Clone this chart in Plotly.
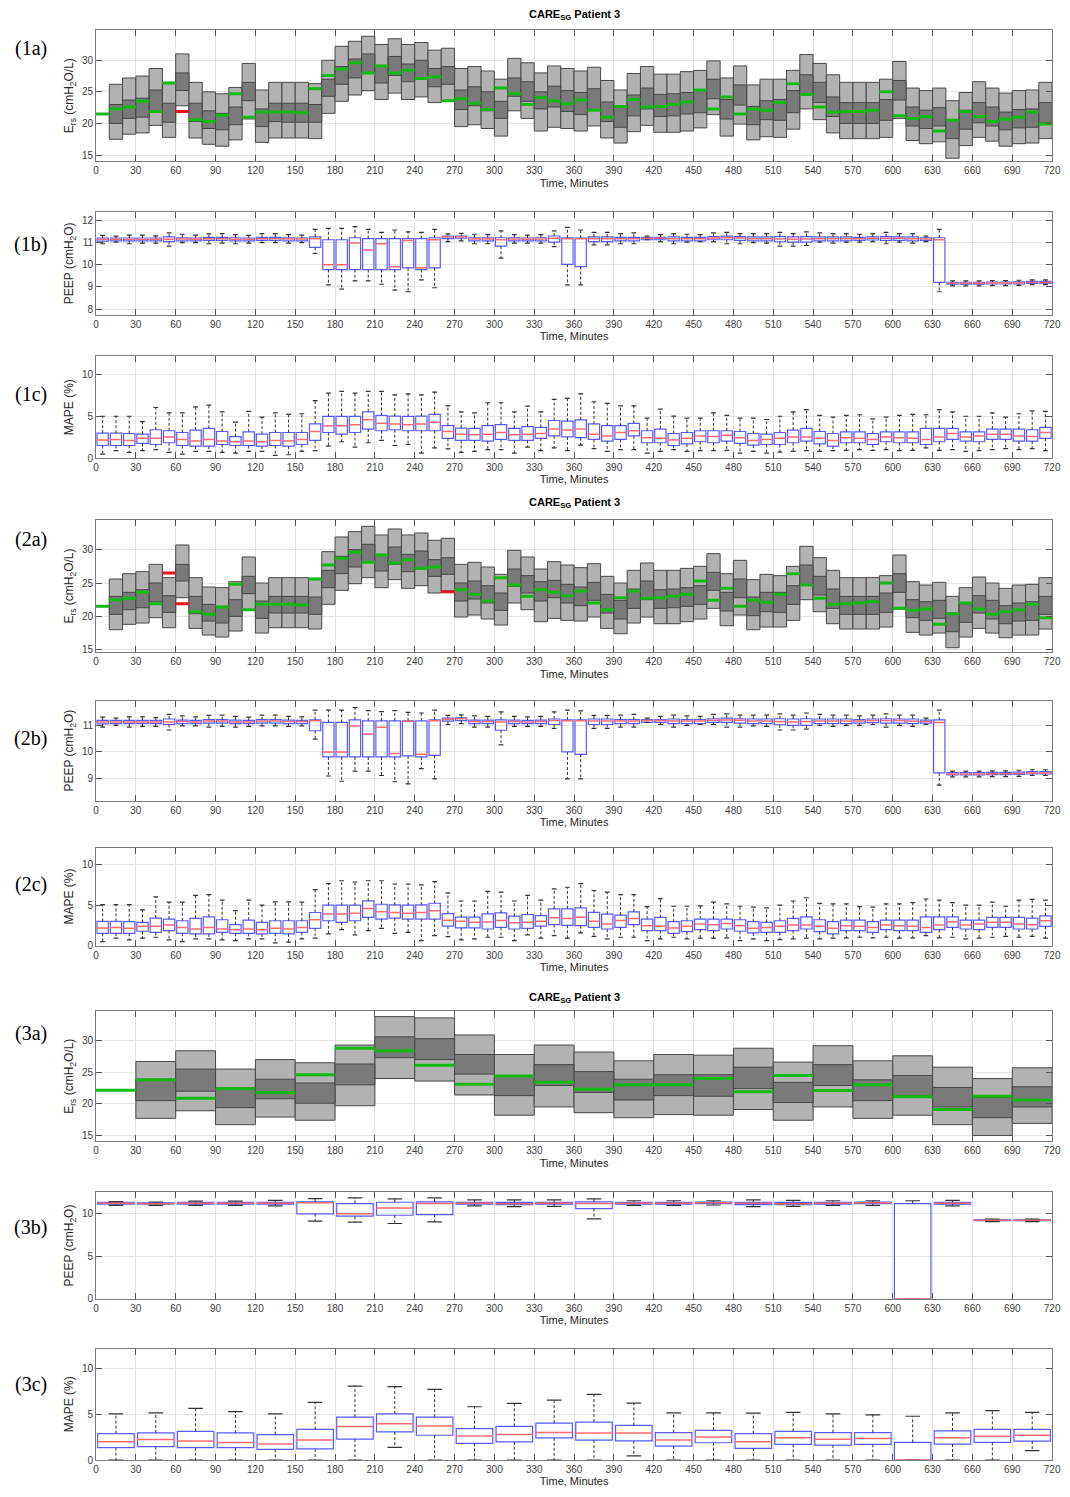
import plotly.graph_objects as go

# page size, and offset of the figure inside the page (browser body margin)
PW, PH = 1070, 1497
OFF = 8
W, H = PW - OFF, PH - OFF
XL, XR = 94, 1061  # plot area left/right in page pixels

# ---------------- data ----------------
t_ticks = list(range(0, 721, 30))

# (1a) Ers, 10-min bins: outer range, inner range, clinical value
es1_hi = [None, 26.2, 27.2, 27.5, 28.7, 26.5, 31.0, 26.5, 25.0, 24.7, 25.7, 29.5, 25.3, 26.5, 26.5, 26.5, 26.3, 30.0,
          32.2, 33.0, 33.8, 32.5, 33.4, 32.5, 32.8, 31.6, 31.9, 28.7, 29.0, 28.3, 27.0, 30.3, 29.6, 28.0, 29.1, 28.7,
          28.3, 28.9, 26.8, 25.3, 27.9, 29.0, 27.8, 27.8, 28.2, 28.4, 29.9, 27.2, 29.1, 26.1, 27.0, 27.0, 28.4, 30.9,
          29.5, 27.7, 26.5, 26.5, 26.5, 27.0, 29.8, 25.6, 25.2, 25.6, 23.6, 24.9, 26.6, 25.6, 24.8, 25.2, 25.3, 26.5]
es1_q3 = [None, 23.0, 23.7, 24.0, 25.3, 23.2, 28.0, 23.2, 22.0, 21.6, 22.6, 26.5, 22.3, 23.2, 23.2, 23.2, 23.0, 27.0,
          29.0, 30.2, 31.0, 29.2, 30.6, 29.4, 30.0, 28.7, 29.0, 25.3, 25.8, 25.0, 23.5, 27.2, 26.6, 25.0, 25.9, 25.2,
          24.9, 25.5, 23.4, 22.7, 24.5, 25.6, 24.6, 24.7, 24.9, 25.3, 27.0, 23.8, 26.1, 22.7, 23.6, 23.8, 25.2, 27.7,
          26.5, 24.2, 23.3, 23.3, 23.3, 23.8, 26.8, 22.6, 22.1, 22.5, 20.6, 22.1, 23.3, 22.6, 21.8, 22.2, 22.3, 23.3]
es1_q1 = [None, 20.0, 20.8, 21.0, 22.0, 20.2, 25.2, 20.3, 19.2, 19.0, 19.8, 23.6, 19.5, 20.3, 20.2, 20.2, 20.2, 24.3,
          26.2, 27.2, 28.0, 26.4, 27.6, 26.6, 27.0, 25.8, 26.2, 22.2, 22.8, 22.0, 20.8, 24.3, 23.5, 22.3, 22.6, 21.9,
          21.4, 22.2, 20.3, 19.4, 21.2, 22.3, 21.1, 21.2, 21.5, 21.7, 23.9, 20.7, 22.9, 19.8, 20.6, 20.5, 21.7, 24.6,
          23.3, 21.1, 20.0, 20.0, 20.0, 20.5, 23.7, 19.6, 19.2, 19.6, 17.6, 19.1, 20.1, 19.6, 19.0, 19.3, 19.4, 20.1]
es1_lo = [None, 17.5, 18.3, 18.5, 19.7, 17.8, 22.8, 17.7, 16.7, 16.4, 17.4, 20.7, 17.0, 17.7, 17.7, 17.7, 17.6, 21.6,
          23.5, 24.5, 25.2, 23.8, 24.8, 23.8, 24.2, 23.3, 23.5, 19.5, 19.8, 19.2, 18.0, 22.0, 20.8, 18.8, 19.4, 19.2,
          18.8, 19.6, 17.7, 16.9, 18.7, 19.7, 18.6, 18.6, 18.8, 19.3, 21.4, 18.0, 19.9, 17.4, 17.9, 17.8, 19.1, 22.3,
          20.6, 18.5, 17.6, 17.6, 17.6, 17.8, 20.8, 17.3, 16.8, 17.1, 14.5, 16.5, 17.8, 17.2, 16.4, 16.8, 16.9, 17.6]
es1_val = [21.5, 22.3, 22.6, 23.5, 21.9, 26.4, 21.9, 20.6, 20.3, 21.3, 24.7, 21.0, 21.8, 21.8, 21.8, 21.7, 25.5, 27.6,
           28.6, 29.6, 28.0, 29.1, 28.0, 28.4, 27.1, 27.4, 23.6, 23.9, 23.2, 22.2, 25.6, 24.7, 23.0, 24.1, 23.6, 23.1,
           23.7, 22.1, 21.0, 22.7, 23.8, 22.6, 22.7, 23.0, 23.4, 25.3, 22.3, 24.2, 21.5, 22.3, 22.1, 23.3, 26.3, 24.6,
           22.6, 21.8, 21.9, 21.9, 22.1, 25.0, 21.2, 20.8, 21.1, 18.8, 20.5, 21.9, 21.1, 20.3, 20.7, 21.0, 21.8, 19.9]
es1_red_bins = [6]

# (1b) PEEP boxplots, 10-min bins
pe1_hi = [11.33, 11.29, 11.34, 11.34, 11.31, 11.44, 11.38, 11.34, 11.40, 11.41, 11.36, 11.33, 11.41, 11.41, 11.36,
          11.34, 11.60, 11.64, 11.64, 11.72, 11.60, 11.46, 11.57, 11.49, 11.46, 11.60, 11.40, 11.42, 11.38, 11.36,
          11.53, 11.36, 11.34, 11.36, 11.53, 11.69, 11.57, 11.46, 11.46, 11.41, 11.44, 11.29, 11.36, 11.41, 11.38,
          11.36, 11.44, 11.46, 11.41, 11.41, 11.41, 11.46, 11.41, 11.49, 11.44, 11.41, 11.41, 11.38, 11.41, 11.46,
          11.41, 11.41, 11.29, 11.60, 9.27, 9.27, 9.27, 9.28, 9.28, 9.30, 9.32, 9.32]
pe1_q3 = [11.21, 11.21, 11.21, 11.21, 11.21, 11.26, 11.22, 11.21, 11.24, 11.24, 11.22, 11.21, 11.24, 11.24, 11.22,
          11.21, 11.26, 11.13, 11.13, 11.22, 11.18, 11.18, 11.18, 11.18, 11.18, 11.22, 11.29, 11.30, 11.22, 11.22,
          11.22, 11.22, 11.21, 11.22, 11.30, 11.22, 11.20, 11.26, 11.26, 11.24, 11.24, 11.24, 11.24, 11.26, 11.24,
          11.24, 11.27, 11.29, 11.27, 11.26, 11.26, 11.27, 11.26, 11.27, 11.26, 11.26, 11.26, 11.24, 11.26, 11.27,
          11.26, 11.26, 11.22, 11.22, 9.21, 9.21, 9.21, 9.22, 9.22, 9.23, 9.25, 9.25]
pe1_med = [11.15, 11.15, 11.15, 11.15, 11.15, 11.15, 11.16, 11.15, 11.18, 11.18, 11.15, 11.15, 11.18, 11.18, 11.16,
           11.16, 11.18, 10.00, 10.00, 10.98, 10.67, 10.95, 9.91, 11.10, 9.86, 11.13, 11.25, 11.27, 11.16, 11.16,
           11.13, 11.16, 11.15, 11.16, 11.20, 11.18, 11.18, 11.18, 11.18, 11.18, 11.18, 11.20, 11.20, 11.18, 11.18,
           11.18, 11.21, 11.22, 11.21, 11.18, 11.18, 11.16, 11.15, 11.16, 11.18, 11.18, 11.18, 11.18, 11.20, 11.20,
           11.20, 11.18, 11.16, 11.13, 9.16, 9.16, 9.16, 9.17, 9.17, 9.18, 9.20, 9.20]
pe1_q1 = [11.07, 11.08, 11.08, 11.08, 11.08, 11.05, 11.08, 11.08, 11.10, 11.10, 11.08, 11.08, 11.10, 11.10, 11.08,
          11.08, 10.79, 9.78, 9.78, 9.78, 9.78, 9.78, 9.78, 9.86, 9.78, 9.86, 11.18, 11.20, 11.08, 11.08, 10.84,
          11.08, 11.08, 11.08, 11.02, 10.02, 9.92, 11.05, 11.05, 11.08, 11.08, 11.13, 11.13, 11.08, 11.08, 11.08,
          11.13, 11.13, 11.10, 11.08, 11.08, 11.04, 11.02, 11.02, 11.08, 11.08, 11.08, 11.10, 11.12, 11.10, 11.10,
          11.08, 11.10, 9.20, 9.12, 9.12, 9.12, 9.13, 9.13, 9.14, 9.16, 9.16]
pe1_lo = [10.95, 11.02, 10.95, 10.98, 10.98, 10.84, 11.00, 11.00, 10.95, 10.98, 10.95, 10.98, 11.00, 11.00, 10.98,
          11.00, 10.51, 9.09, 8.90, 9.27, 9.27, 9.12, 8.85, 8.78, 9.32, 8.96, 11.05, 11.08, 10.95, 10.95, 10.30,
          10.98, 10.98, 10.98, 10.82, 9.09, 9.09, 10.90, 10.90, 10.95, 10.95, 11.13, 11.05, 10.95, 11.02, 11.05,
          11.05, 10.95, 10.95, 11.00, 10.98, 10.84, 10.84, 10.87, 11.02, 10.98, 11.02, 11.02, 11.05, 10.95, 11.02,
          10.98, 11.05, 8.78, 9.05, 9.05, 9.05, 9.06, 9.06, 9.07, 9.10, 9.10]

# (1c) MAPE boxplots, 10-min bins
ma1_hi = [5.0, 5.0, 5.0, 4.37, 6.04, 5.39, 5.39, 6.12, 6.33, 5.51, 4.29, 5.59, 4.9, 5.39, 5.22, 5.3, 6.86, 7.76, 7.96,
          7.76, 7.96, 7.96, 7.55, 7.67, 7.55, 7.88, 6.24, 5.51, 5.39, 6.61, 6.61, 5.51, 6.2, 5.51, 7.02, 7.14, 7.67,
          6.73, 6.53, 6.24, 6.24, 4.78, 5.84, 5.02, 4.78, 4.78, 5.39, 5.1, 4.78, 4.78, 4.61, 5.0, 5.51, 5.8, 5.1, 4.9,
          5.1, 5.18, 4.69, 4.9, 5.1, 5.22, 5.18, 5.8, 5.51, 5.0, 5.0, 5.39, 4.9, 5.3, 5.63, 5.59]
ma1_q3 = [2.98, 2.98, 2.94, 2.86, 3.39, 3.27, 3.06, 3.35, 3.55, 3.18, 2.57, 3.14, 2.86, 3.06, 3.06, 3.06, 4.08, 4.98,
          4.98, 4.98, 5.51, 5.1, 5.02, 4.98, 5.02, 5.22, 3.88, 3.59, 3.55, 3.88, 4.0, 3.55, 3.76, 3.67, 4.49, 4.41,
          4.57, 4.08, 3.88, 3.88, 4.16, 3.27, 3.47, 2.94, 3.06, 3.27, 3.27, 3.27, 3.18, 2.94, 2.86, 3.06, 3.35, 3.55,
          3.18, 2.94, 3.14, 3.14, 2.94, 3.14, 3.14, 3.14, 3.55, 3.55, 3.55, 3.14, 3.14, 3.47, 3.47, 3.47, 3.39, 3.67]
ma1_med = [2.16, 2.24, 2.12, 2.37, 2.37, 2.53, 2.24, 2.04, 2.24, 2.04, 1.96, 2.04, 1.96, 2.12, 2.04, 2.24, 3.18, 3.88,
           3.88, 4.0, 4.57, 4.16, 4.08, 4.0, 4.08, 4.29, 3.18, 2.86, 2.78, 2.86, 3.06, 2.78, 2.86, 2.94, 3.47, 3.35,
           3.47, 2.86, 2.65, 3.06, 3.27, 2.45, 2.37, 2.16, 2.37, 2.65, 2.57, 2.73, 2.45, 2.12, 2.24, 2.37, 2.53, 2.53,
           2.37, 2.12, 2.45, 2.37, 2.24, 2.53, 2.45, 2.37, 2.24, 2.53, 2.94, 2.53, 2.65, 2.86, 2.86, 2.65, 2.57, 3.06]
ma1_q1 = [1.51, 1.51, 1.51, 1.76, 1.63, 1.84, 1.51, 1.43, 1.43, 1.63, 1.51, 1.51, 1.43, 1.51, 1.43, 1.63, 2.12, 3.06,
          2.86, 3.06, 3.47, 3.27, 3.39, 3.27, 3.27, 3.27, 2.37, 2.12, 2.12, 2.04, 2.24, 2.12, 2.12, 2.37, 2.65, 2.53,
          2.45, 2.24, 2.04, 2.24, 2.65, 1.84, 1.84, 1.51, 1.71, 1.96, 1.84, 2.04, 1.76, 1.55, 1.63, 1.63, 1.84, 2.04,
          1.71, 1.43, 1.84, 1.84, 1.63, 1.96, 1.84, 1.84, 1.63, 1.96, 2.24, 2.04, 1.96, 2.24, 2.24, 2.04, 2.04, 2.37]
ma1_lo = [0.49, 0.9, 0.69, 0.9, 1.02, 0.69, 0.49, 0.82, 0.82, 0.69, 0.61, 0.82, 0.82, 0.33, 0.41, 0.82, 0.9, 1.43,
          1.96, 1.31, 1.84, 2.12, 1.51, 1.63, 0.61, 1.22, 1.1, 0.69, 0.82, 1.02, 1.02, 0.61, 1.31, 0.9, 1.22, 0.9,
          1.55, 1.14, 0.82, 1.02, 1.02, 0.61, 0.82, 1.02, 0.82, 0.9, 0.9, 0.94, 0.61, 0.82, 0.61, 0.73, 0.82, 0.9,
          0.82, 0.9, 0.94, 1.02, 0.94, 1.02, 0.9, 0.94, 1.22, 0.94, 1.02, 0.82, 0.9, 1.02, 1.14, 1.02, 1.14, 0.9]

# (2a) Ers, 10-min bins
es2_hi = [None, 25.6, 26.4, 26.7, 27.8, 25.8, 30.7, 25.8, 24.4, 24.3, 25.2, 28.9, 25.0, 25.8, 25.8, 25.8, 25.7, 29.7,
          31.9, 32.7, 33.5, 32.2, 33.1, 32.2, 32.5, 31.4, 31.7, 27.8, 28.1, 27.4, 26.3, 29.9, 28.9, 27.1, 28.2, 27.7,
          27.3, 27.9, 26.0, 25.0, 26.9, 28.0, 26.9, 26.9, 27.2, 27.5, 29.4, 26.4, 28.4, 25.5, 26.3, 26.1, 27.5, 30.5,
          28.8, 26.9, 25.8, 25.8, 25.8, 26.1, 29.2, 25.2, 24.7, 25.1, 23.0, 24.3, 25.9, 25.0, 24.2, 24.7, 24.8, 25.8]
es2_q3 = [None, 23.0, 23.6, 24.0, 25.0, 23.1, 27.8, 23.0, 21.8, 21.5, 22.5, 26.0, 22.3, 23.0, 23.0, 23.0, 22.9, 26.9,
          29.0, 30.0, 30.8, 29.3, 30.4, 29.3, 29.8, 28.5, 28.8, 25.0, 25.3, 24.6, 23.5, 27.1, 26.1, 25.2, 25.4, 24.8,
          24.4, 25.1, 23.3, 22.4, 24.1, 25.3, 24.0, 24.1, 24.3, 24.6, 26.6, 23.6, 25.6, 22.9, 23.6, 23.6, 24.6, 27.7,
          26.0, 24.1, 23.0, 23.0, 23.0, 23.5, 26.4, 22.5, 22.2, 22.4, 20.5, 21.9, 23.1, 22.4, 21.6, 22.0, 22.2, 23.0]
es2_q1 = [None, 20.3, 21.0, 21.3, 22.2, 20.6, 25.3, 20.4, 19.3, 19.0, 20.0, 23.4, 19.7, 20.5, 20.5, 20.5, 20.3, 24.3,
          26.4, 27.4, 28.2, 26.8, 27.8, 26.7, 27.1, 26.0, 26.3, 22.3, 22.6, 22.0, 20.9, 24.5, 23.5, 22.3, 22.8, 22.0,
          21.6, 22.4, 20.5, 19.6, 21.2, 22.5, 21.2, 21.3, 21.5, 21.8, 23.9, 20.8, 22.8, 20.1, 20.7, 20.6, 21.8, 24.7,
          23.2, 21.2, 20.3, 20.3, 20.3, 20.6, 23.6, 19.8, 19.4, 19.7, 17.7, 19.1, 20.5, 19.6, 18.9, 19.3, 19.4, 20.3]
es2_lo = [None, 18.0, 18.8, 19.0, 19.8, 18.3, 22.8, 18.2, 17.2, 16.9, 17.8, 20.9, 17.5, 18.3, 18.3, 18.3, 18.1, 21.8,
          23.9, 24.9, 25.8, 24.3, 25.5, 24.2, 24.6, 23.5, 23.8, 19.9, 20.2, 19.6, 18.7, 22.0, 21.0, 19.2, 19.7, 19.4,
          19.3, 19.9, 18.2, 17.4, 19.0, 19.9, 18.9, 18.9, 19.2, 19.6, 21.2, 18.6, 20.2, 18.0, 18.4, 18.4, 19.4, 22.5,
          20.7, 18.9, 18.1, 18.1, 18.1, 18.4, 21.1, 17.6, 17.2, 17.5, 15.3, 16.9, 18.2, 17.5, 16.8, 17.2, 17.2, 18.1]
es2_val = [21.5, 22.5, 22.7, 23.6, 21.9, 26.5, 21.9, 20.7, 20.3, 21.4, 24.8, 21.0, 21.8, 21.8, 21.8, 21.7, 25.6, 27.7,
           28.7, 29.6, 28.1, 29.2, 28.0, 28.5, 27.2, 27.4, 23.7, 24.0, 23.3, 22.3, 25.8, 24.7, 23.0, 24.0, 23.6, 23.1,
           23.8, 22.0, 21.0, 22.8, 23.8, 22.7, 22.8, 23.0, 23.3, 25.3, 22.4, 24.2, 21.5, 22.4, 22.1, 23.3, 26.4, 24.7,
           22.7, 21.8, 21.9, 22.0, 22.2, 25.0, 21.2, 20.9, 21.1, 18.8, 20.4, 22.0, 21.1, 20.3, 20.7, 21.0, 21.8, 19.8]
es2_red_bins = [5, 6, 26]

# (2b) PEEP boxplots, 10-min bins
pe2_hi = [11.33, 11.29, 11.34, 11.34, 11.31, 11.44, 11.38, 11.34, 11.40, 11.41, 11.36, 11.33, 11.41, 11.41, 11.36,
          11.34, 11.60, 11.60, 11.60, 11.70, 11.58, 11.54, 11.58, 11.51, 11.49, 11.60, 11.40, 11.42, 11.38, 11.36,
          11.53, 11.36, 11.34, 11.36, 11.53, 11.60, 11.57, 11.40, 11.40, 11.41, 11.44, 11.29, 11.36, 11.41, 11.38,
          11.36, 11.44, 11.46, 11.41, 11.41, 11.41, 11.46, 11.41, 11.49, 11.44, 11.41, 11.41, 11.38, 11.41, 11.46,
          11.41, 11.41, 11.29, 11.60, 9.27, 9.27, 9.27, 9.28, 9.28, 9.30, 9.32, 9.32]
pe2_q3 = [11.21, 11.21, 11.21, 11.21, 11.21, 11.26, 11.22, 11.21, 11.24, 11.24, 11.22, 11.21, 11.24, 11.24, 11.22,
          11.21, 11.23, 11.13, 11.13, 11.23, 11.19, 11.19, 11.19, 11.19, 11.19, 11.23, 11.29, 11.30, 11.22, 11.22,
          11.23, 11.22, 11.21, 11.22, 11.26, 11.23, 11.23, 11.26, 11.26, 11.24, 11.24, 11.24, 11.24, 11.26, 11.24,
          11.24, 11.27, 11.29, 11.27, 11.26, 11.26, 11.27, 11.26, 11.27, 11.26, 11.26, 11.26, 11.24, 11.26, 11.27,
          11.26, 11.26, 11.22, 11.23, 9.21, 9.21, 9.21, 9.22, 9.22, 9.23, 9.25, 9.25]
pe2_med = [11.15, 11.15, 11.15, 11.15, 11.15, 11.15, 11.16, 11.15, 11.18, 11.18, 11.15, 11.15, 11.18, 11.18, 11.16,
           11.16, 11.19, 10.00, 10.00, 10.99, 10.68, 10.94, 9.94, 11.17, 9.91, 11.19, 11.25, 11.27, 11.16, 11.16,
           11.15, 11.16, 11.15, 11.16, 11.20, 11.19, 11.19, 11.18, 11.18, 11.18, 11.18, 11.20, 11.20, 11.18, 11.18,
           11.18, 11.21, 11.22, 11.21, 11.18, 11.18, 11.16, 11.15, 11.16, 11.18, 11.18, 11.18, 11.18, 11.20, 11.20,
           11.20, 11.18, 11.16, 11.13, 9.16, 9.16, 9.16, 9.17, 9.17, 9.18, 9.20, 9.20]
pe2_q1 = [11.07, 11.08, 11.08, 11.08, 11.08, 11.05, 11.08, 11.08, 11.10, 11.10, 11.08, 11.08, 11.10, 11.10, 11.08,
          11.08, 10.81, 9.81, 9.81, 9.81, 9.81, 9.81, 9.81, 9.85, 9.81, 9.87, 11.18, 11.20, 11.08, 11.08, 10.83,
          11.08, 11.08, 11.08, 11.05, 10.00, 9.91, 11.05, 11.05, 11.08, 11.08, 11.13, 11.13, 11.08, 11.08, 11.08,
          11.13, 11.13, 11.10, 11.08, 11.08, 11.04, 11.02, 11.02, 11.08, 11.08, 11.08, 11.10, 11.12, 11.10, 11.10,
          11.08, 11.10, 9.20, 9.12, 9.12, 9.12, 9.13, 9.13, 9.14, 9.16, 9.16]
pe2_lo = [10.95, 11.02, 10.95, 10.98, 10.98, 10.84, 11.00, 11.00, 10.95, 10.98, 10.95, 10.98, 11.00, 11.00, 10.98,
          11.00, 10.49, 9.08, 8.88, 9.27, 9.27, 9.10, 8.86, 8.78, 9.36, 8.97, 11.05, 11.08, 10.95, 10.95, 10.27,
          10.98, 10.98, 10.98, 10.90, 8.97, 8.97, 10.90, 10.90, 10.95, 10.95, 11.13, 11.05, 10.95, 11.02, 11.05,
          11.05, 10.95, 10.95, 11.00, 10.98, 10.84, 10.84, 10.87, 11.02, 10.98, 11.02, 11.02, 11.05, 10.95, 11.02,
          10.98, 11.05, 8.73, 9.05, 9.05, 9.05, 9.06, 9.06, 9.07, 9.10, 9.10]

# (2c) MAPE boxplots, 10-min bins
ma2_hi = [5.06, 5.06, 5.06, 4.4, 6.0, 5.35, 5.35, 6.2, 6.3, 5.6, 4.3, 5.6, 5.0, 5.4, 5.4, 5.35, 6.9, 7.65, 8.0, 7.85,
          8.0, 8.0, 7.6, 7.6, 7.5, 7.9, 6.5, 5.5, 5.5, 6.7, 6.6, 5.5, 6.2, 5.6, 7.0, 7.2, 7.65, 6.8, 6.6, 6.3, 6.3,
          4.8, 5.8, 4.85, 4.85, 4.9, 5.35, 5.15, 4.85, 4.75, 4.65, 5.0, 5.5, 5.9, 5.2, 5.15, 5.15, 4.8, 4.75, 5.15,
          5.15, 5.3, 5.75, 5.6, 5.3, 5.0, 5.0, 5.35, 4.85, 5.6, 5.7, 5.6]
ma2_q3 = [2.98, 2.98, 2.94, 2.86, 3.39, 3.27, 3.06, 3.35, 3.55, 3.18, 2.57, 3.14, 2.86, 3.06, 3.06, 3.06, 4.08, 4.98,
          4.98, 4.98, 5.51, 5.1, 5.02, 4.98, 5.02, 5.22, 3.95, 3.5, 3.5, 3.9, 4.03, 3.62, 3.83, 3.7, 4.53, 4.53,
          4.65, 4.1, 3.88, 3.75, 4.16, 3.27, 3.47, 2.94, 3.06, 3.27, 3.27, 3.27, 3.18, 2.94, 2.86, 3.06, 3.35, 3.55,
          3.18, 2.94, 3.14, 3.14, 2.94, 3.14, 3.14, 3.14, 3.55, 3.55, 3.55, 3.14, 3.14, 3.47, 3.47, 3.47, 3.39, 3.67]
ma2_med = [2.16, 2.24, 2.12, 2.37, 2.37, 2.53, 2.24, 2.04, 2.24, 2.04, 1.96, 2.04, 1.96, 2.12, 2.04, 2.24, 3.18, 3.88,
           3.88, 4.0, 4.57, 4.16, 4.08, 4.0, 4.08, 4.29, 3.13, 3.0, 2.88, 2.9, 3.09, 2.8, 2.88, 3.0, 3.42, 3.33,
           3.5, 3.0, 2.67, 3.1, 3.33, 2.45, 2.37, 2.16, 2.37, 2.65, 2.57, 2.73, 2.45, 2.12, 2.24, 2.37, 2.53, 2.53,
           2.37, 2.12, 2.45, 2.37, 2.24, 2.53, 2.45, 2.37, 2.24, 2.53, 2.94, 2.53, 2.65, 2.86, 2.86, 2.65, 2.57, 3.06]
ma2_q1 = [1.51, 1.51, 1.51, 1.76, 1.63, 1.84, 1.51, 1.43, 1.43, 1.63, 1.51, 1.51, 1.43, 1.51, 1.43, 1.63, 2.12, 3.06,
          2.86, 3.06, 3.47, 3.27, 3.39, 3.27, 3.27, 3.27, 2.39, 2.18, 2.18, 2.04, 2.24, 2.04, 2.12, 2.39, 2.59, 2.5,
          2.45, 2.24, 2.04, 2.24, 2.59, 1.84, 1.84, 1.51, 1.71, 1.96, 1.84, 2.04, 1.76, 1.55, 1.63, 1.63, 1.84, 2.04,
          1.71, 1.43, 1.84, 1.84, 1.63, 1.96, 1.84, 1.84, 1.63, 1.96, 2.24, 2.04, 1.96, 2.24, 2.24, 2.04, 2.04, 2.37]
ma2_lo = [0.49, 0.9, 0.69, 0.9, 1.02, 0.69, 0.49, 0.82, 0.82, 0.69, 0.61, 0.82, 0.82, 0.33, 0.41, 0.82, 0.9, 1.43,
          1.96, 1.31, 1.84, 2.12, 1.51, 1.63, 0.61, 1.22, 1.1, 0.69, 0.82, 1.02, 1.02, 0.61, 1.31, 0.9, 1.22, 0.9,
          1.55, 1.14, 0.82, 1.02, 1.02, 0.61, 0.82, 1.02, 0.82, 0.9, 0.9, 0.94, 0.61, 0.82, 0.61, 0.73, 0.82, 0.9,
          0.82, 0.9, 0.94, 1.02, 0.94, 1.02, 0.9, 0.94, 1.22, 0.94, 1.02, 0.82, 0.9, 1.02, 1.14, 1.02, 1.14, 0.9]

# (3a) Ers, 30-min bins
es3_hi = [None, 26.7, 28.4, 25.5, 27.0, 26.5, 29.3, 33.8, 33.6, 30.9, 27.8, 29.3, 28.2, 26.8, 27.8, 27.7, 28.8, 26.6,
          29.2, 26.8, 27.6, 25.8, 24.0, 25.7]
es3_q3 = [None, 23.9, 25.5, 22.5, 23.9, 23.3, 26.3, 30.6, 30.3, 27.8, 24.4, 26.2, 25.1, 23.9, 24.6, 24.6, 25.8, 23.4,
          26.2, 23.8, 24.5, 22.6, 21.0, 22.7]
es3_q1 = [None, 20.5, 22.0, 19.4, 20.8, 20.1, 23.0, 27.3, 27.0, 24.7, 21.3, 22.9, 21.8, 20.6, 21.3, 21.2, 22.4, 20.2,
          22.9, 20.5, 21.2, 19.5, 17.8, 19.5]
es3_lo = [None, 17.7, 18.9, 16.7, 17.9, 17.4, 19.7, 24.0, 23.6, 21.4, 18.2, 19.5, 18.6, 17.8, 18.3, 18.2, 19.1, 17.4,
          19.5, 17.7, 18.2, 16.7, 15.0, 16.9]
es3_val = [22.15, 23.8, 20.9, 22.4, 21.8, 24.6, 28.8, 28.4, 26.1, 23.1, 24.4, 23.4, 22.3, 23.0, 23.0, 24.0, 21.9, 24.5,
           22.1, 23.0, 21.1, 19.1, 21.2, 20.6]
es3_red_bins = []

# (3b) PEEP boxplots, 30-min bins
pe3_hi = [11.4, 11.35, 11.45, 11.45, 11.55, 11.75, 11.83, 11.71, 11.83, 11.6, 11.6, 11.6, 11.71, 11.5, 11.5, 11.5,
          11.6, 11.55, 11.5, 11.5, 11.5, 11.55, 9.35, 9.35]
pe3_q3 = [11.3, 11.25, 11.3, 11.3, 11.3, 11.36, 11.17, 11.32, 11.36, 11.3, 11.3, 11.3, 11.36, 11.3, 11.3, 11.35, 11.3,
          11.3, 11.3, 11.35, 11.17, 11.3, 9.25, 9.25]
pe3_med = [11.2, 11.15, 11.2, 11.2, 11.2, 11.25, 9.96, 10.66, 11.17, 11.2, 11.15, 11.2, 11.17, 11.2, 11.2, 11.25, 11.2,
           11.15, 11.2, 11.25, 0.0, 11.2, 9.2, 9.2]
pe3_q1 = [11.1, 11.1, 11.1, 11.1, 11.1, 9.96, 9.69, 9.8, 9.88, 11.1, 11.05, 11.1, 10.58, 11.1, 11.1, 11.15, 11.05,
          11.05, 11.1, 11.15, 0.0, 11.1, 9.15, 9.15]
pe3_lo = [10.95, 10.95, 10.95, 10.95, 10.9, 9.1, 8.99, 8.83, 9.03, 10.9, 10.8, 10.85, 9.38, 10.95, 10.95, 11.0, 10.8,
          10.85, 10.95, 10.95, 0.0, 10.9, 9.05, 9.05]

# (3c) MAPE boxplots, 30-min bins
ma3_hi = [5.05, 5.16, 5.66, 5.3, 5.05, 6.31, 8.1, 8.03, 7.74, 5.84, 6.2, 6.56, 7.2, 6.24, 5.16, 5.16, 5.13, 5.23, 5.05,
          4.95, 4.8, 5.16, 5.41, 5.23]
ma3_q3 = [2.9, 2.97, 3.15, 2.97, 2.8, 3.37, 4.7, 5.05, 4.7, 3.44, 3.69, 4.05, 4.16, 3.8, 3.01, 3.26, 2.9, 3.15, 3.01,
          3.01, 1.94, 3.19, 3.37, 3.37]
ma3_med = [2.0, 2.26, 2.08, 1.94, 1.76, 2.19, 3.69, 3.98, 3.73, 2.65, 2.8, 3.01, 2.97, 2.97, 2.19, 2.54, 2.0, 2.44,
           2.29, 2.37, 0.0, 2.44, 2.62, 2.72]
ma3_q1 = [1.36, 1.47, 1.36, 1.36, 1.18, 1.22, 2.29, 3.08, 2.72, 1.83, 2.0, 2.44, 2.19, 2.11, 1.54, 1.9, 1.29, 1.72,
          1.65, 1.72, 0.0, 1.76, 1.94, 2.08]
ma3_lo = [0.0, 0.0, 0.0, 0.0, 0.0, 0.0, 0.0, 1.4, 0.0, 0.0, 0.0, 0.0, 0.0, 0.47, 0.0, 0.0, 0.0, 0.0, 0.0, 0.0, 0.0,
          0.0, 0.0, 1.04]

# ---------------- styling ----------------
LIGHT = "#b2b2b2"
DARK = "#7a7a7a"
EDGE = "#484848"
GREEN = "#12bb12"
RED = "#e8141a"
BLUE = "#5a5aff"
MED = "#ff6b6b"
WHISK = "#333333"
AXC = "#7a7a7a"
GRID = "#e4e4e4"
TICKFONT = dict(family="Liberation Sans, Arial, sans-serif", size=10, color="#404040")
TITLEFONT = dict(family="Liberation Sans, Arial, sans-serif", size=11, color="#262626")
YTITLEFONT = dict(family="Liberation Sans, Arial, sans-serif", size=12, color="#262626")

fig = go.Figure()


def axid(k):
    return ("x" if k == 1 else f"x{k}"), ("y" if k == 1 else f"y{k}")


def px_x(p):
    return (p - OFF) / W


def px_y(p):
    return 1 - (p - OFF) / H


def add_es(k, bw, hi, q3, q1, lo, val, red_bins):
    xa, ya = axid(k)
    idx = [i for i in range(len(hi)) if hi[i] is not None]
    xc = [bw * (i + 0.5) for i in idx]
    fig.add_trace(go.Bar(x=xc, base=[lo[i] for i in idx], y=[hi[i] - lo[i] for i in idx], width=bw,
                         marker=dict(color=LIGHT, line=dict(color=EDGE, width=1)),
                         xaxis=xa, yaxis=ya, showlegend=False, hoverinfo="skip"))
    fig.add_trace(go.Bar(x=xc, base=[q1[i] for i in idx], y=[q3[i] - q1[i] for i in idx], width=bw,
                         marker=dict(color=DARK, line=dict(color=EDGE, width=1)),
                         xaxis=xa, yaxis=ya, showlegend=False, hoverinfo="skip"))
    for col, sel in ((GREEN, [i for i in range(len(val)) if i not in red_bins]), (RED, red_bins)):
        xs, ys = [], []
        for i in sel:
            xs += [bw * i, bw * (i + 1), None]
            ys += [val[i], val[i], None]
        if xs:
            fig.add_trace(go.Scatter(x=xs, y=ys, mode="lines", line=dict(color=col, width=3),
                                     xaxis=xa, yaxis=ya, showlegend=False, hoverinfo="skip"))


def add_box(k, bw, boxw, capw, q1, med, q3, lo, hi):
    xa, ya = axid(k)
    n = len(med)
    xc = [bw * (i + 0.5) for i in range(n)]
    wx, wy = [], []
    for i in range(n):
        wx += [xc[i], xc[i], None, xc[i], xc[i], None]
        wy += [q3[i], hi[i], None, q1[i], lo[i], None]
    fig.add_trace(go.Scatter(x=wx, y=wy, mode="lines", line=dict(color=WHISK, width=1, dash="3px,2px"),
                             xaxis=xa, yaxis=ya, showlegend=False, hoverinfo="skip"))
    cx, cy = [], []
    for i in range(n):
        cx += [xc[i] - capw / 2, xc[i] + capw / 2, None, xc[i] - capw / 2, xc[i] + capw / 2, None]
        cy += [hi[i], hi[i], None, lo[i], lo[i], None]
    fig.add_trace(go.Scatter(x=cx, y=cy, mode="lines", line=dict(color=WHISK, width=1.2),
                             xaxis=xa, yaxis=ya, showlegend=False, hoverinfo="skip"))
    fig.add_trace(go.Bar(x=xc, base=q1, y=[q3[i] - q1[i] for i in range(n)], width=boxw,
                         marker=dict(color="rgba(0,0,0,0)", line=dict(color=BLUE, width=1.2)),
                         xaxis=xa, yaxis=ya, showlegend=False, hoverinfo="skip"))
    mx, my = [], []
    for i in range(n):
        mx += [xc[i] - boxw / 2, xc[i] + boxw / 2, None]
        my += [med[i], med[i], None]
    fig.add_trace(go.Scatter(x=mx, y=my, mode="lines", line=dict(color=MED, width=1.5),
                             xaxis=xa, yaxis=ya, showlegend=False, hoverinfo="skip"))


ES_T = "E<sub>rs</sub> (cmH<sub>2</sub>O/L)"
PE_T = "PEEP (cmH<sub>2</sub>O)"
MA_T = "MAPE (%)"

# panel positions in page pixels
panels = [
    dict(lab="(1a)", top=30, bot=162, yr=[14.0, 34.8], yt=[15, 20, 25, 30], yti=ES_T, ly=49),
    dict(lab="(1b)", top=212.7, bot=316, yr=[7.74, 12.39], yt=[8, 9, 10, 11, 12], yti=PE_T, ly=245),
    dict(lab="(1c)", top=357.6, bot=460, yr=[0, 12.16], yt=[0, 5, 10], yti=MA_T, ly=396),
    dict(lab="(2a)", top=521.7, bot=655, yr=[14.6, 34.5], yt=[15, 20, 25, 30], yti=ES_T, ly=542),
    dict(lab="(2b)", top=703.5, bot=803.8, yr=[8.14, 11.96], yt=[9, 10, 11], yti=PE_T, ly=741),
    dict(lab="(2c)", top=851, bot=949.3, yr=[0, 12.1], yt=[0, 5, 10], yti=MA_T, ly=888),
    dict(lab="(3a)", top=1015, bot=1146, yr=[14.05, 34.7], yt=[15, 20, 25, 30], yti=ES_T, ly=1038),
    dict(lab="(3b)", top=1197, bot=1304, yr=[0, 12.5], yt=[0, 5, 10], yti=PE_T, ly=1232),
    dict(lab="(3c)", top=1354, bot=1466, yr=[0, 12.2], yt=[0, 5, 10], yti=MA_T, ly=1390),
]

add_es(1, 10, es1_hi, es1_q3, es1_q1, es1_lo, es1_val, es1_red_bins)
add_box(2, 10, 8.5, 3.6, pe1_q1, pe1_med, pe1_q3, pe1_lo, pe1_hi)
add_box(3, 10, 8.5, 3.6, ma1_q1, ma1_med, ma1_q3, ma1_lo, ma1_hi)
add_es(4, 10, es2_hi, es2_q3, es2_q1, es2_lo, es2_val, es2_red_bins)
add_box(5, 10, 8.5, 3.6, pe2_q1, pe2_med, pe2_q3, pe2_lo, pe2_hi)
add_box(6, 10, 8.5, 3.6, ma2_q1, ma2_med, ma2_q3, ma2_lo, ma2_hi)
add_es(7, 30, es3_hi, es3_q3, es3_q1, es3_lo, es3_val, es3_red_bins)
add_box(8, 30, 27.5, 11, pe3_q1, pe3_med, pe3_q3, pe3_lo, pe3_hi)
add_box(9, 30, 27.5, 11, ma3_q1, ma3_med, ma3_q3, ma3_lo, ma3_hi)

layout = dict(width=W, height=H, margin=dict(l=0, r=0, t=0, b=0), paper_bgcolor="white",
              plot_bgcolor="white", barmode="overlay", showlegend=False)
annotations = []
for k, p in enumerate(panels, 1):
    xname = "xaxis" if k == 1 else f"xaxis{k}"
    yname = "yaxis" if k == 1 else f"yaxis{k}"
    xa, ya = axid(k)
    layout[xname] = dict(domain=[px_x(XL), px_x(XR)], range=[0, 720], tickvals=t_ticks, anchor=ya,
                         showgrid=True, gridcolor=GRID, gridwidth=1, ticks="inside", ticklen=6, tickcolor="#555555",
                         showline=True, linecolor=AXC, linewidth=1, mirror="ticks", zeroline=False,
                         tickfont=TICKFONT, title=dict(text="Time, Minutes", font=TITLEFONT, standoff=3))
    layout[yname] = dict(domain=[px_y(p["bot"]), px_y(p["top"])], range=p["yr"], tickvals=p["yt"], anchor=xa,
                         showgrid=True, gridcolor=GRID, gridwidth=1, ticks="inside", ticklen=6, tickcolor="#555555",
                         showline=True, linecolor=AXC, linewidth=1, mirror="ticks", zeroline=False,
                         tickfont=TICKFONT, title=dict(text=p["yti"], font=YTITLEFONT, standoff=5))
    annotations.append(dict(text=p["lab"], xref="paper", yref="paper", x=px_x(28), y=px_y(p["ly"]),
                            xanchor="center", yanchor="middle", showarrow=False,
                            font=dict(family="Liberation Serif, Times New Roman, serif", size=20, color="black")))

for ty in (15.5, 505.5, 1002):
    annotations.append(dict(text="<b>CARE<sub>SG</sub> Patient 3</b>", xref="paper", yref="paper",
                            x=px_x((XL + XR) / 2), y=px_y(ty), xanchor="center", yanchor="middle", showarrow=False,
                            font=dict(family="Liberation Sans, Arial, sans-serif", size=11, color="black")))
layout["annotations"] = annotations
fig.update_layout(**layout)
fig.write_html("out.html")
